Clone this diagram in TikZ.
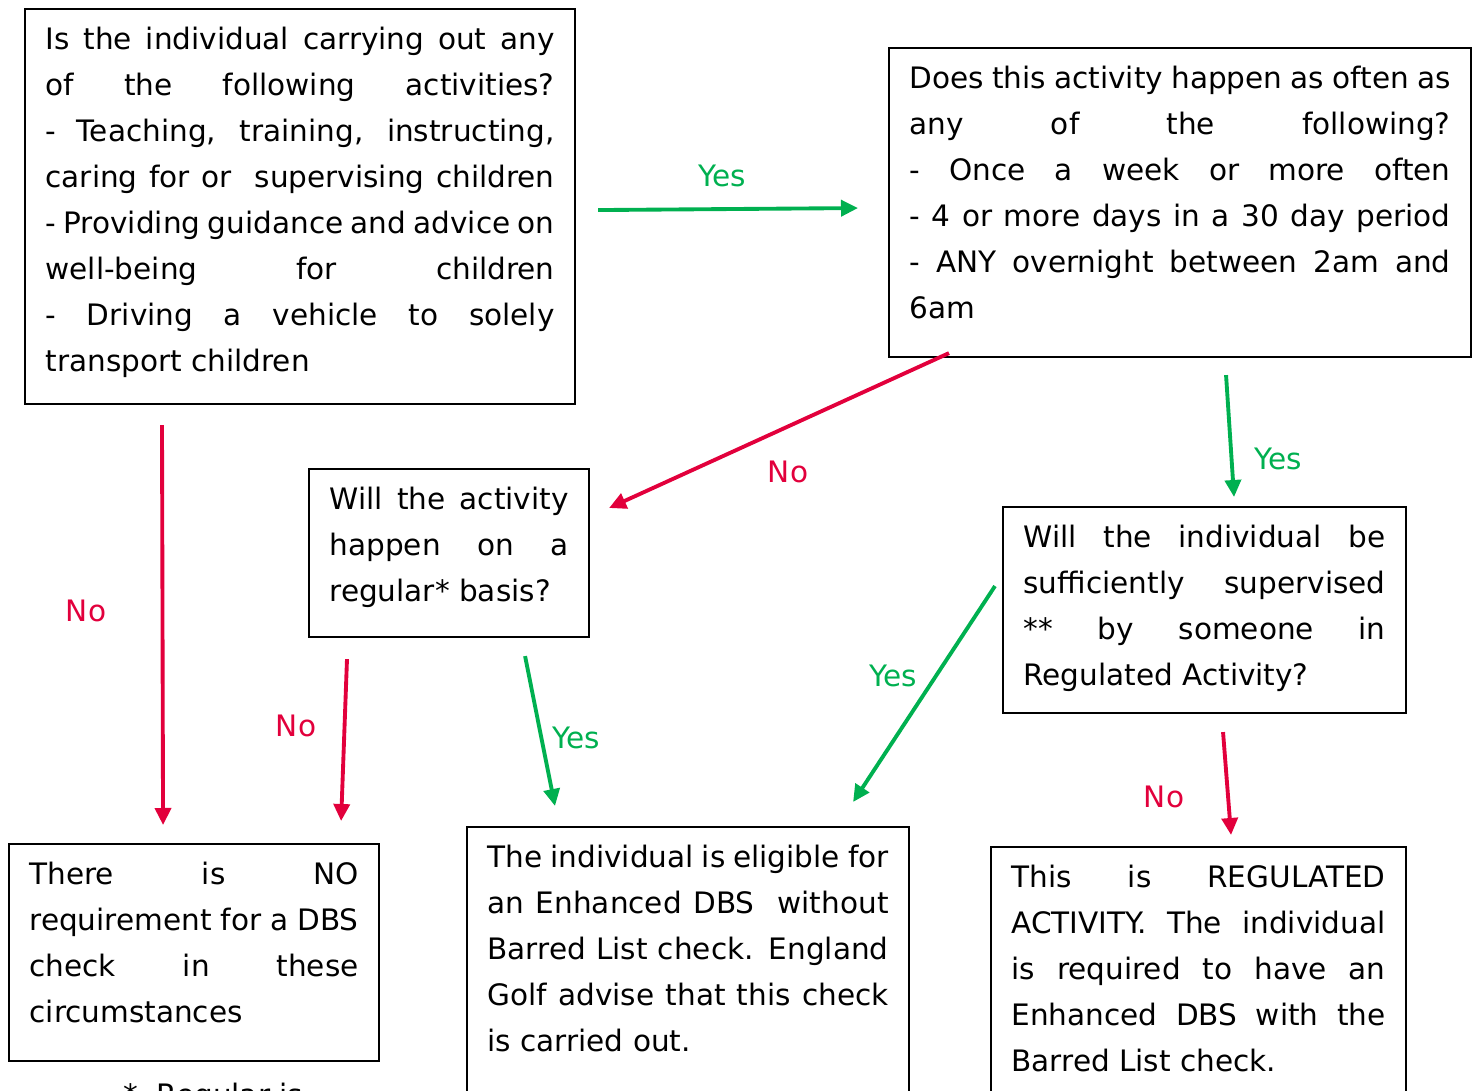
\documentclass[tikz,border=0pt]{standalone}
\usepackage{fontspec}
\setmainfont{DejaVu Sans}
\usetikzlibrary{arrows.meta}
\definecolor{yesgreen}{RGB}{0,176,80}
\definecolor{nored}{RGB}{226,0,60}
\tolerance=10000
\hyphenpenalty=10000
\exhyphenpenalty=10000
\begin{document}
\begin{tikzpicture}[
    font=\fontsize{8.4}{13.09}\selectfont,
    qbox/.style={draw, line width=0.6pt, anchor=north west, align=justify,
        inner xsep=0.205cm, inner ysep=0pt, text height=0.40cm},
    yesarr/.style={yesgreen, line width=1.1pt, -{Triangle[length=0.17cm,width=0.16cm]}},
    noarr/.style={nored, line width=1.1pt, -{Triangle[length=0.17cm,width=0.16cm]}},
    yestxt/.style={text=yesgreen},
    notxt/.style={text=nored}]
    \useasboundingbox (0,0) rectangle (14.77,10.90);
    \clip (0,0) rectangle (14.77,10.90);
    % question boxes
    \node[qbox, text width=5.09cm, text depth=3.55cm] (acts) at (0.24,10.82)
        {Is the individual carrying out any\linebreak
        of the following activities?\linebreak
        - Teaching, training, instructing,\linebreak
        caring for or~ supervising children\linebreak
        - Providing guidance and advice on\linebreak
        well-being for children\linebreak
        - Driving a vehicle to solely\linebreak
        transport children};
    \node[qbox, text width=5.41cm, text depth=2.69cm] (often) at (8.88,10.43)
        {Does this activity happen as often as\linebreak
        any of the following?\linebreak
        - Once a week or more often\linebreak
        - 4 or more days in a 30 day period\linebreak
        - ANY overnight between 2am and\linebreak
        6am};
    \node[qbox, text width=2.39cm, text depth=1.28cm] (regular) at (3.08,6.22)
        {Will the activity\linebreak
        happen on a\linebreak
        regular* basis?};
    \node[qbox, text width=3.62cm, text depth=1.66cm] (superv) at (10.02,5.84)
        {Will the individual be\linebreak
        sufficiently supervised\linebreak
        ** by someone in\linebreak
        Regulated Activity?};
    % outcome boxes
    \node[qbox, text width=3.29cm, text depth=1.77cm] (norq) at (0.08,2.47)
        {There is NO\linebreak
        requirement for a DBS\linebreak
        check in these\linebreak
        circumstances};
    \node[qbox, text width=4.01cm, text depth=3.00cm] (enh) at (4.66,2.64)
        {The individual is eligible for\linebreak
        an Enhanced DBS~ without\linebreak
        Barred List check. England\linebreak
        Golf advise that this check\linebreak
        is carried out.};
    \node[qbox, text width=3.74cm, text depth=3.00cm] (regact) at (9.90,2.44)
        {This is REGULATED\linebreak
        ACTIVITY. The individual\linebreak
        is required to have an\linebreak
        Enhanced DBS with the\linebreak
        Barred List check.};
    \node[anchor=base west] (fnote) at (1.11,-0.15) {*~ Regular is};
    % arrows
    \draw[yesarr] ([shift={(0.22,-0.035)}]acts.east) -- ([shift={(-0.30,-0.055)}]often.west);
    \draw[noarr] ([shift={(0.61,0.05)}]often.south west) -- ([shift={(0.19,-0.40)}]regular.north east);
    \draw[yesarr] ([shift={(0.46,-0.17)}]often.south) -- ([shift={(0.295,0.09)}]superv.north);
    \draw[noarr] ([shift={(1.38,-0.20)}]acts.south west) -- ([shift={(-0.31,0.18)}]norq.north);
    \draw[noarr] ([shift={(0.39,-0.21)}]regular.south west) -- ([shift={(-0.39,0.22)}]norq.north east);
    \draw[yesarr] ([shift={(0.76,-0.18)}]regular.south) -- ([shift={(0.89,0.20)}]enh.north west);
    \draw[yesarr] ([shift={(-0.07,0.24)}]superv.west) -- ([shift={(-0.57,0.24)}]enh.north east);
    \draw[noarr] ([shift={(0.185,-0.18)}]superv.south) -- ([shift={(0.325,0.11)}]regact.north);
    % labels
    \node[yestxt] (y1) at (7.22,9.14) {Yes};
    \node[notxt] (n2) at (7.88,6.18) {No};
    \node[yestxt] (y3) at (12.78,6.31) {Yes};
    \node[notxt] (n4) at (0.86,4.79) {No};
    \node[notxt] (n5) at (2.96,3.64) {No};
    \node[yestxt] (y6) at (5.76,3.52) {Yes};
    \node[yestxt] (y7) at (8.93,4.14) {Yes};
    \node[notxt] (n8) at (11.64,2.93) {No};
\end{tikzpicture}
\end{document}
